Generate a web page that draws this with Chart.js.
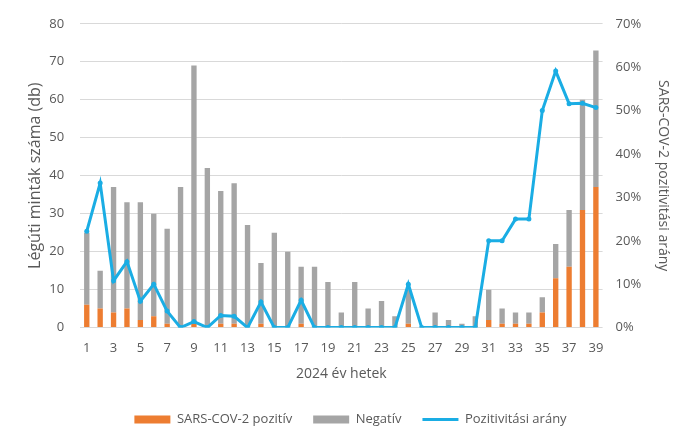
<!DOCTYPE html>
<html>
<head>
<meta charset="utf-8">
<script src="https://cdn.jsdelivr.net/npm/chart.js@4"></script>
<style>
  html, body { margin: 0; padding: 0; background: #fff; }
  #wrap { width: 690px; height: 444px; }
</style>
</head>
<body>
<div id="wrap"><canvas id="chart" width="690" height="444"></canvas></div>
<script>
// Hetek és adatok
const weeks = Array.from({ length: 39 }, (_, i) => String(i + 1));
const positive = [6, 5, 4, 5, 2, 3, 1, 0, 1, 0, 1, 1, 0, 1, 0, 0, 1, 0, 0, 0,
                  0, 0, 0, 0, 1, 0, 0, 0, 0, 0, 2, 1, 1, 1, 4, 13, 16, 31, 37];
const negative = [19, 10, 33, 28, 31, 27, 25, 37, 68, 42, 35, 37, 27, 16, 25, 20, 15, 16, 12, 4,
                  12, 5, 7, 3, 9, 0, 4, 2, 1, 3, 8, 4, 3, 3, 4, 9, 15, 29, 36];
const rate = [22.2, 33.3, 10.8, 15.2, 6.1, 10, 3.8, 0, 1.4, 0, 2.8, 2.6, 0, 5.9, 0, 0, 6.3, 0, 0, 0,
              0, 0, 0, 0, 10, 0, 0, 0, 0, 0, 20, 20, 25, 25, 50, 59.1, 51.6, 51.7, 50.7];

const FONT = "'Open Sans', sans-serif";
const TXT = '#595959';

const ctx = document.getElementById('chart').getContext('2d');
const chart = new Chart(ctx, {
    type: 'bar',
    data: {
        labels: weeks,
        datasets: [
            {
                type: 'line',
                label: 'Pozitivitási arány',
                data: rate,
                yAxisID: 'y1',
                borderColor: '#1AADE4',
                backgroundColor: '#1AADE4',
                borderWidth: 3,
                pointRadius: 2.5,
                pointBackgroundColor: '#1AADE4',
                pointBorderWidth: 0,
                tension: 0,
                order: 0
            },
            {
                label: 'SARS-COV-2 pozitív',
                data: positive,
                backgroundColor: '#ED7D31',
                stack: 's',
                order: 1
            },
            {
                label: 'Negatív',
                data: negative,
                backgroundColor: '#A5A5A5',
                stack: 's',
                order: 1
            }
        ]
    },
    options: {
        responsive: false,
        animation: false,
        datasets: { bar: { barPercentage: 0.4, categoryPercentage: 1 } },
        layout: { padding: { left: 26, right: 15, top: 10, bottom: 8 } },
        plugins: {
            tooltip: { enabled: false },
            legend: {
                position: 'bottom',
                labels: {
                    font: { family: FONT, size: 13 },
                    color: TXT,
                    usePointStyle: true,
                    pointStyleWidth: 36,
                    boxHeight: 8,
                    padding: 21,
                    sort: (a, b) => [1, 2, 0].indexOf(a.datasetIndex) - [1, 2, 0].indexOf(b.datasetIndex),
                    generateLabels: (c) => c.data.datasets.map((ds, i) => ({
                        text: ds.label,
                        datasetIndex: i,
                        fillStyle: ds.backgroundColor,
                        strokeStyle: ds.type === 'line' ? ds.borderColor : ds.backgroundColor,
                        lineWidth: ds.type === 'line' ? 3 : 0,
                        pointStyle: ds.type === 'line' ? 'line' : 'rect',
                        fontColor: TXT
                    }))
                }
            }
        },
        scales: {
            x: {
                stacked: true,
                grid: { display: false },
                border: { display: false },
                ticks: {
                    autoSkip: false,
                    maxRotation: 0,
                    padding: 5,
                    color: TXT,
                    font: { family: FONT, size: 13 },
                    callback: function (v, i) { return i % 2 === 0 ? this.getLabelForValue(v) : ''; }
                },
                title: { display: true, text: '2024 év hetek', color: TXT, font: { family: FONT, size: 14 }, padding: { top: 4, bottom: 10 } }
            },
            y: {
                stacked: true,
                min: 0,
                max: 80,
                afterFit: (scale) => { scale.width -= 12; },
                ticks: { stepSize: 10, color: TXT, font: { family: FONT, size: 13 }, padding: 16 },
                grid: { color: '#D9D9D9', drawTicks: false },
                border: { display: false },
                title: { display: true, text: 'Légúti minták száma (db)', color: TXT, font: { family: FONT, size: 16 }, padding: { top: 0, bottom: 0 } }
            },
            y1: {
                position: 'right',
                min: 0,
                max: 70,
                grid: { display: false, drawTicks: false },
                border: { display: false },
                ticks: { stepSize: 10, color: TXT, font: { family: FONT, size: 13 }, padding: 13,
                         callback: v => v + '%' },
                title: { display: true, text: 'SARS-COV-2 pozitivitási arány', color: TXT, font: { family: FONT, size: 14 }, padding: { top: 4, bottom: 0 } }
            }
        }
    }
});
</script>
</body>
</html>
